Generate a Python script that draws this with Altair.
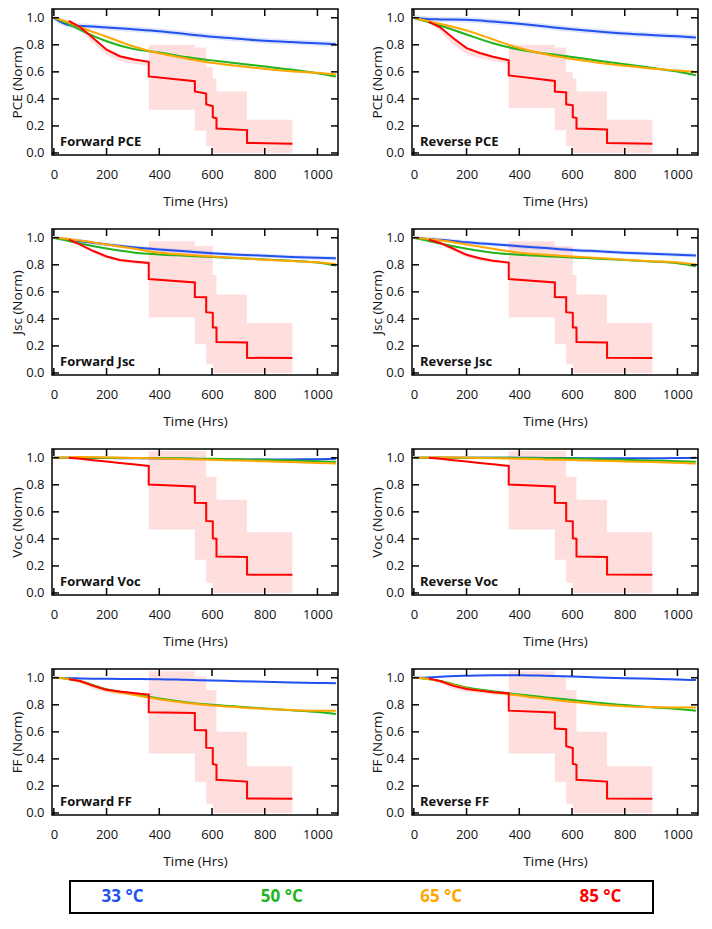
import altair as alt
import pandas as pd

# ---------------- data ----------------
T = [0, 60, 100, 200, 300, 400, 500, 600, 700, 800, 900, 1000, 1070]
RED_T = [57, 100, 150, 200, 250, 300, 360, 360, 535, 535, 578, 578, 603, 603, 617, 617, 733, 733, 905]
RED_PRE_T = [57, 100, 150, 200, 250, 300, 360]
STEP_T = [360, 535, 578, 603, 617, 733, 905]

X_TICKS = [0, 200, 400, 600, 800, 1000]
Y_TICKS = [0.0, 0.2, 0.4, 0.6, 0.8, 1.0]

LEG_LABELS = ["33 °C", "50 °C", "65 °C", "85 °C"]
COLORS = ["#2152f0", "#22b51f", "#ffa600", "#ff0000"]

# Forward PCE
FWD_PCE_BLUE = [1.0, 0.945, 0.94, 0.929, 0.915, 0.90, 0.88, 0.86, 0.845, 0.83, 0.82, 0.812, 0.805]
FWD_PCE_GREEN = [1.0, 0.95, 0.91, 0.826, 0.77, 0.743, 0.71, 0.685, 0.662, 0.64, 0.617, 0.59, 0.566]
FWD_PCE_ORANGE = [1.0, 0.962, 0.93, 0.86, 0.79, 0.737, 0.70, 0.667, 0.643, 0.622, 0.605, 0.593, 0.58]
FWD_PCE_RED = [0.978, 0.93, 0.848, 0.764, 0.716, 0.693, 0.674, 0.566, 0.531, 0.455, 0.44, 0.36, 0.345,
               0.264, 0.257, 0.181, 0.169, 0.074, 0.069]
FWD_PCE_RED_LO = [0.97, 0.905, 0.81, 0.725, 0.68, 0.66, 0.645]
FWD_PCE_RED_HI = [0.985, 0.94, 0.86, 0.775, 0.725, 0.70, 0.68]
FWD_PCE_BAND_LO = [0.32, 0.165, 0.05, 0.0, 0.0, 0.0]
FWD_PCE_BAND_HI = [0.80, 0.78, 0.635, 0.55, 0.455, 0.245]

# Reverse PCE
REV_PCE_BLUE = [1.0, 0.99, 0.988, 0.985, 0.972, 0.955, 0.935, 0.915, 0.898, 0.883, 0.872, 0.863, 0.855]
REV_PCE_GREEN = [1.0, 0.965, 0.943, 0.876, 0.812, 0.765, 0.735, 0.71, 0.683, 0.657, 0.63, 0.602, 0.574]
REV_PCE_ORANGE = [1.0, 0.972, 0.955, 0.907, 0.84, 0.776, 0.73, 0.695, 0.668, 0.645, 0.625, 0.61, 0.598]
REV_PCE_RED = [0.97, 0.93, 0.848, 0.776, 0.74, 0.712, 0.686, 0.574, 0.533, 0.455, 0.448, 0.36, 0.352,
               0.264, 0.258, 0.181, 0.174, 0.074, 0.069]
REV_PCE_RED_LO = [0.96, 0.90, 0.80, 0.73, 0.70, 0.68, 0.66]
REV_PCE_RED_HI = [0.98, 0.94, 0.86, 0.785, 0.75, 0.72, 0.695]
REV_PCE_BAND_LO = [0.333, 0.169, 0.05, 0.0, 0.0, 0.0]
REV_PCE_BAND_HI = [0.80, 0.78, 0.60, 0.55, 0.455, 0.245]

# Forward Jsc
FWD_JSC_BLUE = [1.0, 0.985, 0.975, 0.95, 0.93, 0.914, 0.90, 0.886, 0.875, 0.867, 0.858, 0.852, 0.848]
FWD_JSC_GREEN = [1.0, 0.975, 0.957, 0.92, 0.892, 0.877, 0.867, 0.857, 0.848, 0.84, 0.83, 0.817, 0.795]
FWD_JSC_ORANGE = [1.0, 0.99, 0.98, 0.95, 0.92, 0.89, 0.875, 0.862, 0.85, 0.838, 0.828, 0.819, 0.805]
FWD_JSC_RED = [0.986, 0.95, 0.902, 0.862, 0.836, 0.824, 0.814, 0.695, 0.669, 0.562, 0.56, 0.45, 0.445,
               0.338, 0.335, 0.229, 0.225, 0.112, 0.11]
FWD_JSC_RED_LO = [0.98, 0.935, 0.885, 0.845, 0.82, 0.81, 0.80]
FWD_JSC_RED_HI = [0.99, 0.955, 0.91, 0.87, 0.845, 0.832, 0.822]
FWD_JSC_BAND_LO = [0.41, 0.212, 0.064, 0.0, 0.0, 0.0]
FWD_JSC_BAND_HI = [0.975, 0.94, 0.94, 0.725, 0.58, 0.37]

# Reverse Jsc
REV_JSC_BLUE = [1.0, 0.99, 0.986, 0.967, 0.952, 0.938, 0.924, 0.91, 0.90, 0.89, 0.882, 0.874, 0.869]
REV_JSC_GREEN = [1.0, 0.975, 0.957, 0.919, 0.89, 0.874, 0.864, 0.855, 0.845, 0.836, 0.825, 0.812, 0.79]
REV_JSC_ORANGE = [1.0, 0.99, 0.981, 0.95, 0.919, 0.89, 0.875, 0.862, 0.85, 0.838, 0.827, 0.817, 0.802]
REV_JSC_RED = [0.986, 0.962, 0.919, 0.874, 0.848, 0.83, 0.817, 0.695, 0.669, 0.562, 0.56, 0.45, 0.445,
               0.338, 0.335, 0.229, 0.225, 0.112, 0.11]
REV_JSC_RED_LO = [0.98, 0.945, 0.90, 0.855, 0.83, 0.815, 0.805]
REV_JSC_RED_HI = [0.99, 0.97, 0.93, 0.885, 0.858, 0.84, 0.827]
REV_JSC_BAND_LO = [0.41, 0.212, 0.064, 0.0, 0.0, 0.0]
REV_JSC_BAND_HI = [0.975, 0.94, 0.94, 0.725, 0.58, 0.37]

# Forward Voc
FWD_VOC_BLUE = [1.0, 1.0, 1.0, 0.998, 0.996, 0.995, 0.993, 0.99, 0.988, 0.987, 0.988, 0.99, 0.992]
FWD_VOC_GREEN = [1.0, 1.0, 1.0, 1.0, 0.999, 0.998, 0.995, 0.992, 0.989, 0.985, 0.98, 0.975, 0.97]
FWD_VOC_ORANGE = [1.0, 1.003, 1.005, 1.003, 0.999, 0.995, 0.99, 0.985, 0.98, 0.975, 0.968, 0.962, 0.957]
FWD_VOC_RED = [1.0, 0.993, 0.982, 0.972, 0.962, 0.953, 0.94, 0.802, 0.788, 0.667, 0.665, 0.533, 0.53,
               0.405, 0.40, 0.269, 0.267, 0.136, 0.134]
FWD_VOC_RED_LO = [0.998, 0.99, 0.978, 0.968, 0.958, 0.949, 0.936]
FWD_VOC_RED_HI = [1.002, 0.996, 0.986, 0.976, 0.966, 0.957, 0.944]
FWD_VOC_BAND_LO = [0.47, 0.245, 0.075, 0.0, 0.0, 0.0]
FWD_VOC_BAND_HI = [1.05, 1.05, 0.86, 0.86, 0.69, 0.45]

# Reverse Voc
REV_VOC_BLUE = [1.0, 1.0, 1.0, 1.0, 1.0, 1.0, 0.999, 0.998, 0.997, 0.997, 0.997, 0.998, 1.0]
REV_VOC_GREEN = [1.0, 1.0, 1.0, 1.0, 1.0, 0.999, 0.997, 0.995, 0.99, 0.985, 0.98, 0.975, 0.971]
REV_VOC_ORANGE = [1.0, 1.002, 1.003, 1.0, 0.997, 0.993, 0.988, 0.983, 0.978, 0.973, 0.968, 0.963, 0.957]
REV_VOC_RED = [1.0, 0.993, 0.982, 0.972, 0.962, 0.953, 0.94, 0.802, 0.788, 0.667, 0.665, 0.533, 0.53,
               0.405, 0.40, 0.269, 0.267, 0.136, 0.134]
REV_VOC_RED_LO = [0.998, 0.99, 0.978, 0.968, 0.958, 0.949, 0.936]
REV_VOC_RED_HI = [1.002, 0.996, 0.986, 0.976, 0.966, 0.957, 0.944]
REV_VOC_BAND_LO = [0.47, 0.245, 0.075, 0.0, 0.0, 0.0]
REV_VOC_BAND_HI = [1.05, 1.05, 0.86, 0.86, 0.69, 0.45]

# Forward FF
FWD_FF_BLUE = [1.0, 0.997, 0.995, 0.993, 0.991, 0.99, 0.985, 0.98, 0.975, 0.97, 0.966, 0.962, 0.96]
FWD_FF_GREEN = [1.0, 0.99, 0.975, 0.915, 0.88, 0.847, 0.82, 0.80, 0.786, 0.772, 0.76, 0.747, 0.733]
FWD_FF_ORANGE = [1.0, 0.99, 0.972, 0.91, 0.875, 0.842, 0.815, 0.795, 0.782, 0.77, 0.762, 0.757, 0.757]
FWD_FF_RED = [0.99, 0.976, 0.94, 0.912, 0.898, 0.888, 0.876, 0.745, 0.74, 0.614, 0.612, 0.483, 0.48,
              0.362, 0.355, 0.245, 0.232, 0.107, 0.105]
FWD_FF_RED_LO = [0.985, 0.96, 0.915, 0.89, 0.878, 0.87, 0.862]
FWD_FF_RED_HI = [0.995, 0.98, 0.945, 0.918, 0.905, 0.895, 0.882]
FWD_FF_BAND_LO = [0.44, 0.23, 0.067, 0.0, 0.0, 0.0]
FWD_FF_BAND_HI = [1.048, 1.01, 0.91, 0.91, 0.60, 0.345]

# Reverse FF
REV_FF_BLUE = [1.0, 1.003, 1.008, 1.015, 1.019, 1.019, 1.015, 1.01, 1.003, 0.997, 0.993, 0.988, 0.983]
REV_FF_GREEN = [1.0, 0.99, 0.976, 0.929, 0.90, 0.876, 0.855, 0.835, 0.815, 0.798, 0.782, 0.769, 0.757]
REV_FF_ORANGE = [1.0, 0.99, 0.974, 0.921, 0.893, 0.869, 0.845, 0.822, 0.803, 0.79, 0.784, 0.781, 0.781]
REV_FF_RED = [0.995, 0.976, 0.94, 0.917, 0.905, 0.893, 0.886, 0.757, 0.743, 0.624, 0.62, 0.493, 0.48,
              0.364, 0.357, 0.245, 0.232, 0.107, 0.105]
REV_FF_RED_LO = [0.99, 0.96, 0.915, 0.895, 0.885, 0.875, 0.87]
REV_FF_RED_HI = [1.0, 0.98, 0.945, 0.922, 0.91, 0.898, 0.89]
REV_FF_BAND_LO = [0.44, 0.23, 0.067, 0.0, 0.0, 0.0]
REV_FF_BAND_HI = [1.048, 1.01, 0.91, 0.91, 0.60, 0.345]

# spread of the light bands around the 33 / 50 / 65 degC curves
PCE_SPREAD = [0.02, 0.008, 0.008]
JSC_SPREAD = [0.015, 0.007, 0.007]
VOC_SPREAD = [0.004, 0.004, 0.004]
FF_SPREAD = [0.006, 0.006, 0.006]

# ---------------- layout ----------------
W, H = 286, 146
TICK = 7
FONT = "Open Sans"
XS = alt.Scale(domain=[-7, 1078], nice=False, zero=False)
YS = alt.Scale(domain=[-0.015, 1.065], nice=False, zero=False)

AX_COMMON = dict(domain=False, grid=False, ticks=False,
                 labelFont=FONT, labelFontSize=13, labelColor="#111111", titleFont=FONT,
                 titleFontSize=13.5, titleFontWeight="normal", titleColor="#111111")

XT_DF = pd.DataFrame({"t": X_TICKS})
YT_DF = pd.DataFrame({"v": Y_TICKS})


def panel(name, ytitle, blue, green, orange, red, red_lo, red_hi, band_lo, band_hi, spread):
    ax_b = alt.Axis(orient="bottom", values=X_TICKS, format="d", title="Time (Hrs)",
                    labelPadding=13, titlePadding=13, **AX_COMMON)
    ax_l = alt.Axis(orient="left", values=Y_TICKS, format=".1f", title=ytitle,
                    labelPadding=8, titlePadding=1, **AX_COMMON)

    def xe():
        return alt.X("t:Q", scale=XS, axis=ax_b)

    def ye(field):
        return alt.Y(f"{field}:Q", scale=YS, axis=ax_l)

    layers = []
    # light bands around the smooth curves
    for vals, sp, col in zip([blue, green, orange], spread, COLORS[:3]):
        df = pd.DataFrame({"t": T, "v": vals})
        df["lo"] = df["v"] - sp
        df["hi"] = df["v"] + sp
        layers.append(alt.Chart(df).mark_area(color=col, fillOpacity=0.15, interpolate="monotone").encode(
            x=xe(), y=ye("lo"), y2="hi:Q"))
    # 85 degC spread band: smooth early part and step part
    pre = pd.DataFrame({"t": RED_PRE_T, "lo": red_lo, "hi": red_hi})
    layers.append(alt.Chart(pre).mark_area(color=COLORS[3], fillOpacity=0.13).encode(
        x=xe(), y=ye("lo"), y2="hi:Q"))
    step = pd.DataFrame({"t": STEP_T, "lo": band_lo + band_lo[-1:], "hi": band_hi + band_hi[-1:]})
    layers.append(alt.Chart(step).mark_area(color=COLORS[3], fillOpacity=0.13, interpolate="step-after").encode(
        x=xe(), y=ye("lo"), y2="hi:Q"))
    # curves
    for vals, col in zip([blue, green, orange], COLORS[:3]):
        df = pd.DataFrame({"t": T, "v": vals})
        layers.append(alt.Chart(df).mark_line(color=col, strokeWidth=2, interpolate="monotone").encode(
            x=xe(), y=ye("v")))
    red_df = pd.DataFrame({"t": RED_T, "v": red, "idx": list(range(len(RED_T)))})
    layers.append(alt.Chart(red_df).mark_line(color=COLORS[3], strokeWidth=2).encode(
        x=xe(), y=ye("v"), order="idx:Q"))
    # inward ticks on all four sides
    tick_style = dict(color="black", strokeWidth=1.5)
    layers.append(alt.Chart(XT_DF).mark_rule(**tick_style).encode(
        x=xe(), y=alt.value(H - TICK), y2=alt.value(H)))
    layers.append(alt.Chart(XT_DF).mark_rule(**tick_style).encode(
        x=xe(), y=alt.value(0), y2=alt.value(TICK)))
    layers.append(alt.Chart(YT_DF).mark_rule(**tick_style).encode(
        y=ye("v"), x=alt.value(0), x2=alt.value(TICK)))
    layers.append(alt.Chart(YT_DF).mark_rule(**tick_style).encode(
        y=ye("v"), x=alt.value(W - TICK), x2=alt.value(W)))
    # panel label
    layers.append(alt.Chart(pd.DataFrame({"label": [name]})).mark_text(
        align="left", baseline="alphabetic", fontWeight="bold", fontSize=13, font=FONT, color="#111111"
    ).encode(text="label:N", x=alt.value(8), y=alt.value(H - 9)))
    return alt.layer(*layers).properties(width=W, height=H)


p = [
    panel("Forward PCE", "PCE (Norm)", FWD_PCE_BLUE, FWD_PCE_GREEN, FWD_PCE_ORANGE, FWD_PCE_RED,
          FWD_PCE_RED_LO, FWD_PCE_RED_HI, FWD_PCE_BAND_LO, FWD_PCE_BAND_HI, PCE_SPREAD),
    panel("Reverse PCE", "PCE (Norm)", REV_PCE_BLUE, REV_PCE_GREEN, REV_PCE_ORANGE, REV_PCE_RED,
          REV_PCE_RED_LO, REV_PCE_RED_HI, REV_PCE_BAND_LO, REV_PCE_BAND_HI, PCE_SPREAD),
    panel("Forward Jsc", "Jsc (Norm)", FWD_JSC_BLUE, FWD_JSC_GREEN, FWD_JSC_ORANGE, FWD_JSC_RED,
          FWD_JSC_RED_LO, FWD_JSC_RED_HI, FWD_JSC_BAND_LO, FWD_JSC_BAND_HI, JSC_SPREAD),
    panel("Reverse Jsc", "Jsc (Norm)", REV_JSC_BLUE, REV_JSC_GREEN, REV_JSC_ORANGE, REV_JSC_RED,
          REV_JSC_RED_LO, REV_JSC_RED_HI, REV_JSC_BAND_LO, REV_JSC_BAND_HI, JSC_SPREAD),
    panel("Forward Voc", "Voc (Norm)", FWD_VOC_BLUE, FWD_VOC_GREEN, FWD_VOC_ORANGE, FWD_VOC_RED,
          FWD_VOC_RED_LO, FWD_VOC_RED_HI, FWD_VOC_BAND_LO, FWD_VOC_BAND_HI, VOC_SPREAD),
    panel("Reverse Voc", "Voc (Norm)", REV_VOC_BLUE, REV_VOC_GREEN, REV_VOC_ORANGE, REV_VOC_RED,
          REV_VOC_RED_LO, REV_VOC_RED_HI, REV_VOC_BAND_LO, REV_VOC_BAND_HI, VOC_SPREAD),
    panel("Forward FF", "FF (Norm)", FWD_FF_BLUE, FWD_FF_GREEN, FWD_FF_ORANGE, FWD_FF_RED,
          FWD_FF_RED_LO, FWD_FF_RED_HI, FWD_FF_BAND_LO, FWD_FF_BAND_HI, FF_SPREAD),
    panel("Reverse FF", "FF (Norm)", REV_FF_BLUE, REV_FF_GREEN, REV_FF_ORANGE, REV_FF_RED,
          REV_FF_RED_LO, REV_FF_RED_HI, REV_FF_BAND_LO, REV_FF_BAND_HI, FF_SPREAD),
]

rows = [alt.hconcat(p[2 * i], p[2 * i + 1], spacing=28) for i in range(4)]

leg_df = pd.DataFrame({"label": LEG_LABELS})
legend = alt.Chart(leg_df).mark_text(fontSize=17, fontWeight="bold", font=FONT).encode(
    x=alt.X("label:N", sort=LEG_LABELS, scale=alt.Scale(type="point", padding=0.33), axis=None),
    y=alt.value(16),
    text="label:N",
    color=alt.Color("label:N", scale=alt.Scale(domain=LEG_LABELS, range=COLORS), legend=None),
).properties(width=583, height=32, view=alt.ViewBackground(stroke="black", strokeWidth=2))

# small empty spacer that nudges the legend box to the right
spacer = alt.Chart(leg_df).mark_point(opacity=0).encode(
    x=alt.X("label:N", axis=None), y=alt.value(0)
).properties(width=4, height=32, view=alt.ViewBackground(stroke=None))
legend_row = alt.hconcat(spacer, legend, spacing=10)

chart = alt.vconcat(
    alt.vconcat(*rows, spacing=18), legend_row, spacing=9
).properties(
    padding={"left": 1, "top": -1, "right": 0, "bottom": 0}
).configure_view(stroke="black", strokeWidth=1.5)

chart.save("out.html", embed_options={"renderer": "svg", "actions": False})
